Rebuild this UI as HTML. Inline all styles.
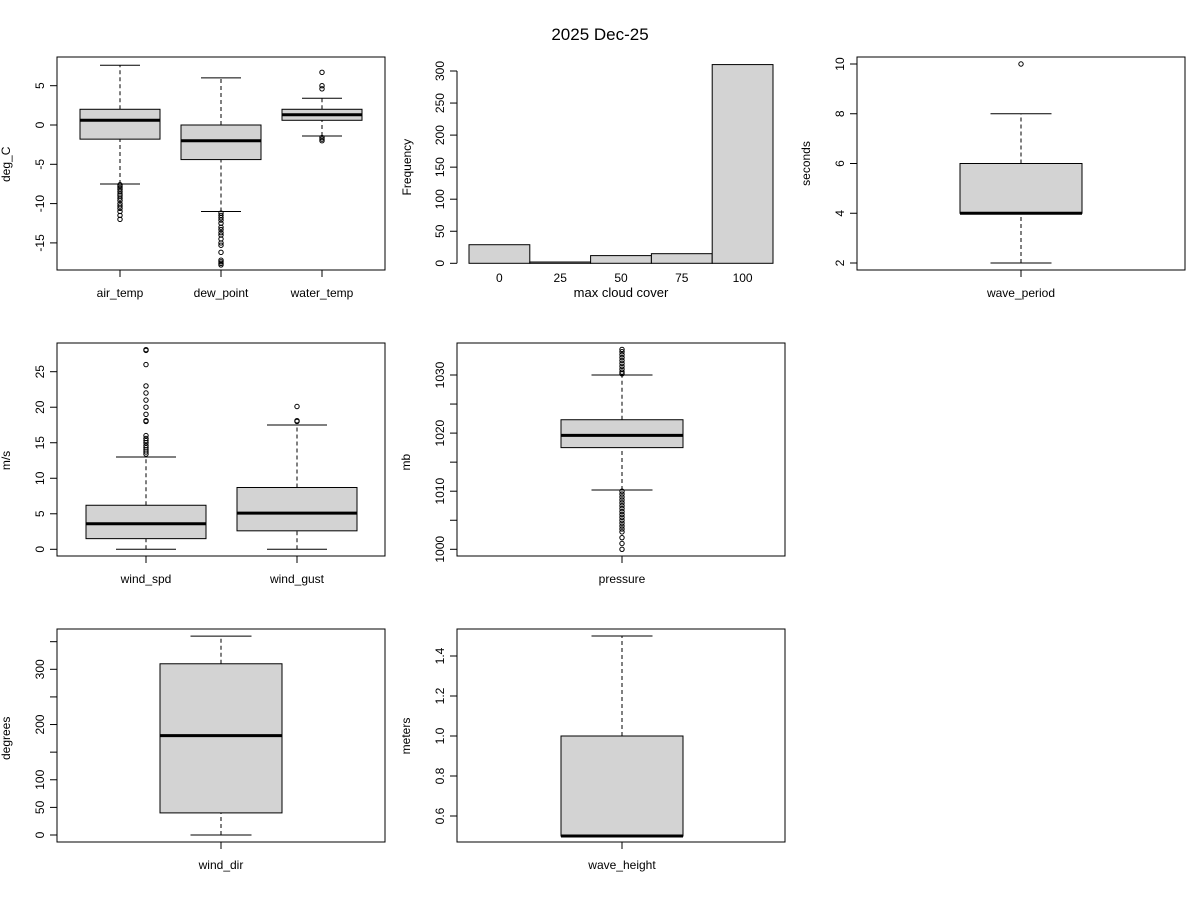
<!DOCTYPE html>
<html><head><meta charset="utf-8"><style>
body{margin:0;background:#fff}
svg{display:block;font-family:"Liberation Sans",sans-serif}
</style></head><body>
<svg id="c" width="1200" height="900" xmlns="http://www.w3.org/2000/svg">
<text x="600" y="40" text-anchor="middle" font-size="17">2025 Dec-25</text>
</svg>
<script>
// ---- data ----
const airTemp = [-7.5, -1.8, 0.6, 2.0, 7.6];
const airTempOut = [-7.6,-7.8,-8,-8.2,-8.5,-8.8,-9,-9.3,-9.6,-10,-10.3,-10.6,-11,-11.5,-12];
const dewPoint = [-11, -4.4, -2.0, 0.0, 6.0];
const dewPointOut = [-11.2,-11.5,-11.8,-12.1,-12.5,-13,-13.3,-13.7,-14,-14.5,-15,-15.3,-16.2,-17.2,-17.4,-17.6,-17.8];
const waterTemp = [-1.4, 0.6, 1.3, 2.0, 3.4];
const waterTempOut = [6.7, 5.0, 4.6, -1.6, -1.8, -2.0];
const tempTicks = [-15, -10, -5, 0, 5];
const cloudCats = ["0","25","50","75","100"];
const cloudCounts = [29, 2, 12, 15, 310];
const freqTicks = [0,50,100,150,200,250,300];
const wavePeriod = [2, 4, 4, 6, 8];
const wavePeriodOut = [10];
const periodTicks = [2,4,6,8,10];
const windSpd = [0, 1.5, 3.6, 6.2, 13];
const windSpdOut = [13.4,13.7,14,14.3,14.6,15,15.3,15.6,16,18,18.1,19,20,21,22,23,26,28,28.1];
const windGust = [0, 2.6, 5.1, 8.7, 17.5];
const windGustOut = [18, 18.1, 20.1];
const windTicks = [0,5,10,15,20,25];
const pressure = [1010.2, 1017.5, 1019.6, 1022.3, 1030];
const pressureOut = [1030.2,1030.5,1031,1031.5,1032,1032.5,1033,1033.5,1034,1034.4,1010,1009.5,1009,1008.5,1008,1007.5,1007,1006.5,1006,1005.5,1005,1004.5,1004,1003.5,1003,1002,1001,1000];
const pressureTicks = [1000,1005,1010,1015,1020,1025,1030];
const pressureLabels = ["1000","","1010","","1020","","1030"];
const windDir = [0, 40, 180, 310, 360];
const dirTicks = [0,50,100,150,200,250,300,350];
const dirLabels = ["0","50","100","","200","","300",""];
const waveHeight = [0.5, 0.5, 0.5, 1.0, 1.5];
const heightTicks = [0.6,0.8,1.0,1.2,1.4];
const heightLabels = ["0.6","0.8","1.0","1.2","1.4"];

const svg = document.getElementById('c');
const NS = 'http://www.w3.org/2000/svg';
function mk(tag, attrs, text){
  const e = document.createElementNS(NS, tag);
  for (const k in attrs) e.setAttribute(k, attrs[k]);
  if (text !== undefined) e.textContent = text;
  svg.appendChild(e);
  return e;
}
function scale(v0, p0, v1, p1){ return v => p0 + (v - v0) * (p1 - p0) / (v1 - v0); }

function frame(x0,y0,x1,y1,name){
  const r = mk('rect',{x:x0,y:y0,width:x1-x0,height:y1-y0,fill:'none',stroke:'#000','stroke-width':1});
  
  
}
function yAxis(x, y, ticks, labels, ylab, name, labX){
  const ps = ticks.map(y);
  const ax = mk('line',{x1:x,x2:x,y1:Math.min(...ps),y2:Math.max(...ps),stroke:'#000'});
  
  
  ticks.forEach((t,i)=>{
    const py = y(t);
    const tk = mk('line',{x1:x-7,x2:x,y1:py,y2:py,stroke:'#000'});
    
    
    const lab = labels ? labels[i] : String(t);
    if (lab) {
      const tx = mk('text',{x:x-13,y:py,'text-anchor':'middle','font-size':12,transform:`rotate(-90 ${x-13} ${py})`}, lab);
      
      
    }
  });
  const cy = (Math.min(...ps)+Math.max(...ps))/2;
  const yl = mk('text',{x:labX,y:cy,'text-anchor':'middle','font-size':12,transform:`rotate(-90 ${labX} ${cy})`}, ylab);
  
  
}
function box(cx, hw, st, out, y, label, yBottom, name){
  const g = [];
  const wl = mk('line',{x1:cx,x2:cx,y1:y(st[0]),y2:y(st[1]),stroke:'#000','stroke-dasharray':'4,3'});
  
  
  const wu = mk('line',{x1:cx,x2:cx,y1:y(st[3]),y2:y(st[4]),stroke:'#000','stroke-dasharray':'4,3'});
  
  
  const cl = mk('line',{x1:cx-hw/2,x2:cx+hw/2,y1:y(st[0]),y2:y(st[0]),stroke:'#000'});
  
  
  const cu = mk('line',{x1:cx-hw/2,x2:cx+hw/2,y1:y(st[4]),y2:y(st[4]),stroke:'#000'});
  
  
  const b = mk('rect',{x:cx-hw,y:y(st[3]),width:2*hw,height:y(st[1])-y(st[3]),fill:'#d3d3d3',stroke:'#000'});
  
  
  const m = mk('line',{x1:cx-hw,x2:cx+hw,y1:y(st[2]),y2:y(st[2]),stroke:'#000','stroke-width':3});
  
  
  out.forEach(v=>{
    const c = mk('circle',{cx:cx,cy:y(v),r:2.2,fill:'none',stroke:'#000','stroke-width':1});
    
    
  });
  const tk = mk('line',{x1:cx,x2:cx,y1:yBottom,y2:yBottom+7,stroke:'#000'});
  
  
  const t = mk('text',{x:cx,y:yBottom+27,'text-anchor':'middle','font-size':12}, label);
  
  
}

// Panel 1: temperatures
(function(){
  const y = scale(0,125,5,85.7);
  frame(57,57,385,270,'temp');
  yAxis(57,y,tempTicks,null,'deg_C','temp',10);
  box(120,40,airTemp,airTempOut,y,'air_temp',270,'air-temp');
  box(221,40,dewPoint,dewPointOut,y,'dew_point',270,'dew-point');
  box(322,40,waterTemp,waterTempOut,y,'water_temp',270,'water-temp');
})();

// Panel 2: cloud histogram
(function(){
  const y = scale(0,263.3,300,71);
  const bw = 60.8, x0 = 469;
  yAxis(457,y,freqTicks,null,'Frequency','cloud',411);
  cloudCounts.forEach((c,i)=>{
    const r = mk('rect',{x:x0+i*bw,y:y(c),width:bw,height:y(0)-y(c),fill:'#d3d3d3',stroke:'#000'});
    
    
    const t = mk('text',{x:x0+i*bw+bw/2,y:282,'text-anchor':'middle','font-size':12}, cloudCats[i]);
    
    
  });
  const xl = mk('text',{x:621,y:297,'text-anchor':'middle','font-size':13}, 'max cloud cover');
  
  
})();

// Panel 3: wave period
(function(){
  const y = scale(2,263,10,64);
  frame(857,57,1185,270,'wave-period');
  yAxis(857,y,periodTicks,null,'seconds','wave-period',810);
  box(1021,61,wavePeriod,wavePeriodOut,y,'wave_period',270,'wave-period');
})();

// Panel 4: wind
(function(){
  const y = scale(0,549.3,25,371.7);
  frame(57,343,385,556,'wind');
  yAxis(57,y,windTicks,null,'m/s','wind',10);
  box(146,60,windSpd,windSpdOut,y,'wind_spd',556,'wind-spd');
  box(297,60,windGust,windGustOut,y,'wind_gust',556,'wind-gust');
})();

// Panel 5: pressure
(function(){
  const y = scale(1000,549.3,1030,375);
  frame(457,343,785,556,'pressure');
  yAxis(457,y,pressureTicks,pressureLabels,'mb','pressure',410);
  box(622,61,pressure,pressureOut,y,'pressure',556,'pressure');
})();

// Panel 7: wind dir
(function(){
  const y = scale(0,835,300,669.3);
  frame(57,629,385,842,'wind-dir');
  yAxis(57,y,dirTicks,dirLabels,'degrees','wind-dir',10);
  box(221,61,windDir,[],y,'wind_dir',842,'wind-dir');
})();

// Panel 8: wave height
(function(){
  const y = scale(0.6,816,1.4,656);
  frame(457,629,785,842,'wave-height');
  yAxis(457,y,heightTicks,heightLabels,'meters','wave-height',410);
  box(622,61,waveHeight,[],y,'wave_height',842,'wave-height');
})();
</script>
</body></html>
